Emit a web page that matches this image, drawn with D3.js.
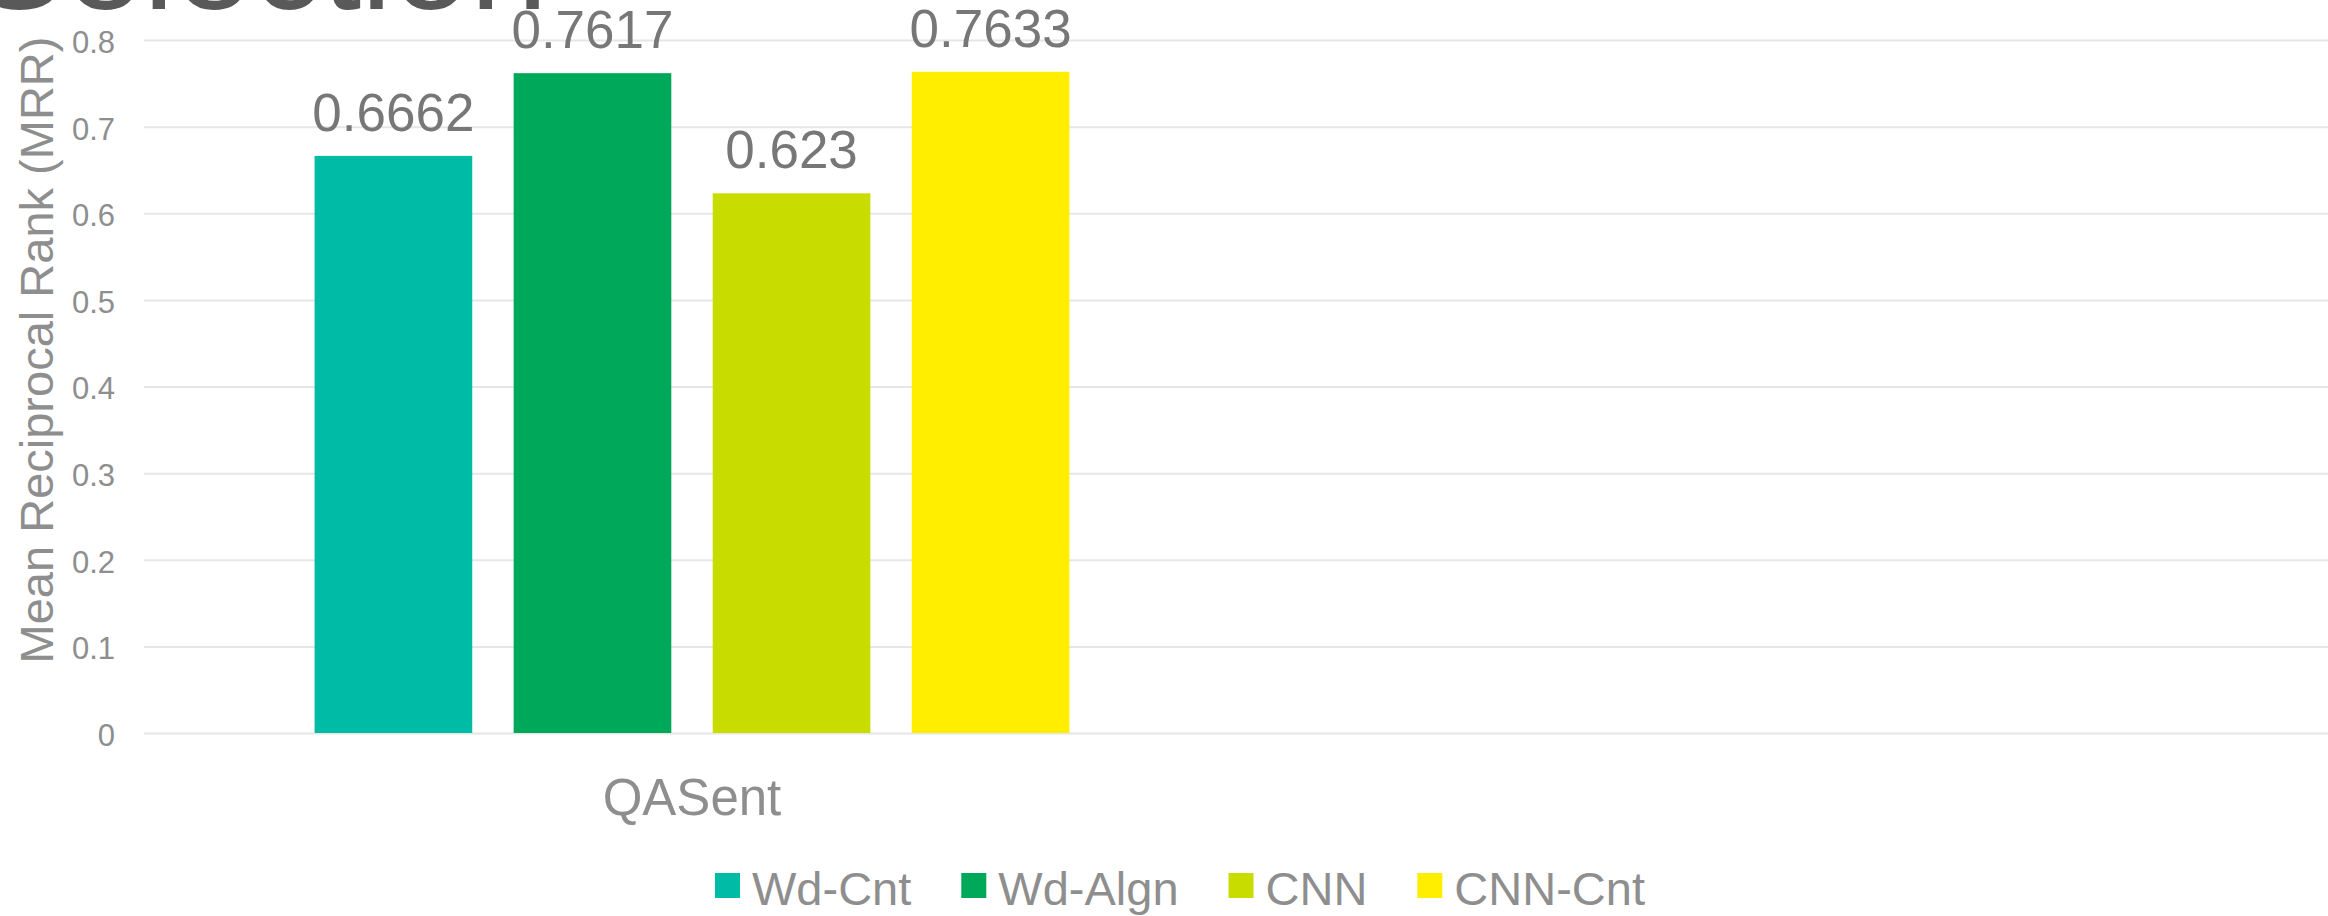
<!DOCTYPE html>
<html>
<head>
<meta charset="utf-8">
<script src="https://cdn.jsdelivr.net/npm/d3@7"></script>
<style>
  body { margin: 0; background: #fff; overflow: hidden; }
  svg { display: block; font-family: "Liberation Sans", Arial, sans-serif; }
</style>
</head>
<body>
<div id="chart"></div>
<script>
// chart data
const categories = ["QASent", ""];
const seriesNames = ["Wd-Cnt", "Wd-Algn", "CNN", "CNN-Cnt"];
const seriesColors = ["#00bba6", "#00a85a", "#c8dc00", "#ffee00"];
const qasentValues = [0.6662, 0.7617, 0.623, 0.7633];
const yTicks = [0, 0.1, 0.2, 0.3, 0.4, 0.5, 0.6, 0.7, 0.8];
const titleText = "Selection";
const yTitle = "Mean Reciprocal Rank (MRR)";

const W = 2328, H = 916;
const plot = { left: 144, right: 2336, top: 40, bottom: 733 };

const svg = d3.select("#chart")
  .append("svg")
  .attr("width", W)
  .attr("height", H);

const x0 = d3.scaleBand()
  .domain(categories)
  .range([plot.left, plot.right]);

const x1 = d3.scaleBand()
  .domain(seriesNames)
  .range([0, x0.bandwidth()])
  .paddingInner(0.208)
  .paddingOuter(0.857);

const y = d3.scaleLinear()
  .domain([0, 0.8])
  .range([plot.bottom, plot.top]);

const color = d3.scaleOrdinal().domain(seriesNames).range(seriesColors);

// title, mostly cut off at the top in the original
svg.append("text")
  .attr("x", -28)
  .attr("y", 9)
  .style("font-size", "140px")
  .style("fill", "#595959")
  .text(titleText);

// gridlines + y labels
const yAxis = svg.append("g")
  .attr("transform", `translate(${plot.left},0)`)
  .call(d3.axisLeft(y)
    .tickValues(yTicks)
    .tickSize(-(plot.right - plot.left))
    .tickPadding(29)
    .tickFormat(d => d === 0 ? "0" : d3.format(".1f")(d)));

yAxis.select(".domain").remove();
yAxis.selectAll(".tick line")
  .attr("stroke", "#e6e6e6")
  .attr("stroke-width", 2);
yAxis.selectAll(".tick text")
  .attr("dy", "0.4em")
  .style("font-size", "31px")
  .style("fill", "#8e8e8e")
  .style("font-family", "'Liberation Sans', Arial, sans-serif");

// y axis title
svg.append("text")
  .attr("transform", `translate(53,350) rotate(-90)`)
  .attr("text-anchor", "middle")
  .style("font-size", "47px")
  .style("fill", "#8e8e8e")
  .text(yTitle);

// bars
const rows = seriesNames.map((s, i) => ({ series: s, value: qasentValues[i] }));
const group = svg.append("g")
  .attr("transform", `translate(${x0("QASent")},0)`);

group.selectAll("rect")
  .data(rows)
  .enter()
  .append("rect")
  .attr("x", d => x1(d.series))
  .attr("y", d => y(d.value))
  .attr("width", x1.bandwidth())
  .attr("height", d => y(0) - y(d.value))
  .attr("fill", d => color(d.series));

// data labels
group.selectAll("text.val")
  .data(rows)
  .enter()
  .append("text")
  .attr("class", "val")
  .attr("x", d => x1(d.series) + x1.bandwidth() / 2)
  .attr("y", d => y(d.value) - 25)
  .attr("text-anchor", "middle")
  .style("font-size", "53px")
  .style("fill", "#777777")
  .text(d => d.value);

// category labels
svg.selectAll("text.cat")
  .data(categories)
  .enter()
  .append("text")
  .attr("class", "cat")
  .attr("x", d => x0(d) + x0.bandwidth() / 2)
  .attr("y", 815)
  .attr("text-anchor", "middle")
  .style("font-size", "51px")
  .style("fill", "#8e8e8e")
  .text(d => d);

// legend
const legend = svg.append("g").attr("transform", "translate(715,0)");
let lx = 0;
seriesNames.forEach(s => {
  const item = legend.append("g").attr("transform", `translate(${lx},0)`);
  item.append("rect")
    .attr("x", 0).attr("y", 873)
    .attr("width", 25).attr("height", 25)
    .attr("fill", color(s));
  const t = item.append("text")
    .attr("x", 37).attr("y", 905)
    .style("font-size", "47px")
    .style("fill", "#8e8e8e")
    .text(s);
  lx += 37 + t.node().getComputedTextLength() + 50;
});
</script>
</body>
</html>
